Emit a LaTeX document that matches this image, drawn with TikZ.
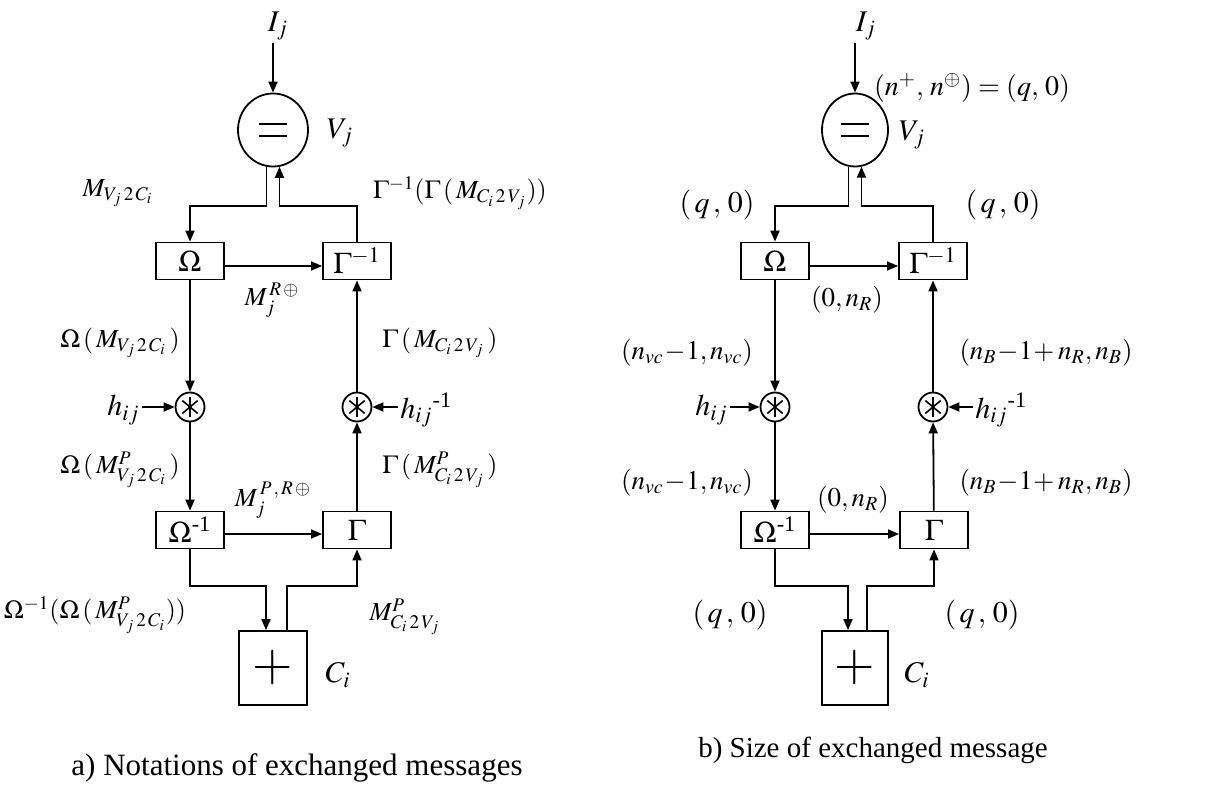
\documentclass[tikz,border=0pt]{standalone}
\usepackage{amsmath}
\usepackage{mathptmx}
\usepackage{fontspec}
\setmainfont{Liberation Serif}
\usetikzlibrary{shapes.geometric, arrows.meta, positioning, calc}

\begin{document}
\begin{tikzpicture}[
        x=0.5pt, y=-0.5pt,
        box/.style={rectangle, draw, line width=0.9pt, minimum width=34pt, minimum height=18.5pt, inner sep=0pt, font=\fontsize{15}{15}\selectfont},
        varnode/.style={ellipse, draw, line width=0.9pt, minimum width=35pt, minimum height=36.5pt, inner sep=0pt,
            path picture={\draw[line width=1pt] ([shift={(-7pt,3.2pt)}]path picture bounding box.center) -- ++(14pt,0pt)
                ([shift={(-7pt,-3.2pt)}]path picture bounding box.center) -- ++(14pt,0pt);}},
        chknode/.style={rectangle, draw, line width=0.9pt, minimum width=34pt, minimum height=37pt, inner sep=0pt, font=\fontsize{26}{26}\selectfont},
        mult/.style={circle, draw, line width=0.9pt, minimum size=14.5pt, inner sep=0pt,
            path picture={\foreach \a in {90,40,140}
                \draw[line width=0.8pt] ([shift={(\a:5pt)}]path picture bounding box.center) -- ([shift={(\a+180:5pt)}]path picture bounding box.center);}},
        lbl/.style={inner sep=1pt, font=\fontsize{13}{15}\selectfont},
        msg/.style={inner sep=1pt, font=\fontsize{15}{17}\selectfont},
        size/.style={inner sep=1pt, font=\fontsize{13.5}{16}\selectfont},
        captext/.style={inner sep=1pt, font=\fontsize{14.5}{17}\selectfont},
        arrow/.style={-{Triangle[length=5.5pt, width=4.5pt]}, line width=0.9pt}
    ]
    \useasboundingbox (0,0) rectangle (1211,787);

    % a) notations
    \node[varnode] (vla) at (273,130) {};
    \node[box] (ola) at (190,261) {$\Omega$};
    \node[box] (gia) at (357,261) {$\Gamma^{-1}$};
    \node[mult] (mla) at (190,407) {};
    \node[mult] (mra) at (357,407) {};
    \node[box] (oia) at (190,530) {$\Omega$\textsuperscript{-1}};
    \node[box] (ga) at (357,530) {$\Gamma$};
    \node[chknode] (pa) at (273,668) {$+$};

    \node[msg] (ija) at (278,26) {$I_j$};
    \node[msg] (vja) at (340,133) {$V_j$};
    \node[msg] (cia) at (338,675) {$C_i$};
    \node[msg, anchor=east] (hla) at (142,410) {$h_{ij}$};
    \node[msg, anchor=west] (hra) at (398,410) {$h_{ij}$\textsuperscript{-1}};

    \node[lbl] (mvca) at (118,193) {$M_{V_j\,2\,C_i}$};
    \node[lbl] (gga) at (460,193) {$\Gamma^{-1}(\Gamma\,(\,M_{C_i\,2\,V_j}))$};
    \node[lbl] (mra1) at (272,300) {$M_j^{\,R\,\oplus}$};
    \node[lbl] (omva) at (120,343) {$\Omega\,(\,M_{V_j\,2\,C_i}\,)$};
    \node[lbl] (gmca) at (440,343) {$\Gamma\,(\,M_{C_i\,2\,V_j}\,)$};
    \node[lbl] (ompa) at (120,470) {$\Omega\,(\,M^P_{V_j\,2\,C_i}\,)$};
    \node[lbl] (gmpa) at (440,470) {$\Gamma\,(\,M^P_{C_i\,2\,V_j}\,)$};
    \node[lbl] (mpra) at (273,500) {$M_j^{\,P\,,\,R\,\oplus}$};
    \node[lbl] (oopa) at (95,615) {$\Omega^{-1}(\Omega\,(\,M^P_{V_j\,2\,C_i}))$};
    \node[lbl] (mpca) at (405,617) {$M^P_{C_i\,2\,V_j}$};
    \node[captext, font=\fontsize{15.5}{18}\selectfont] (capa) at (297,768) {a) Notations of exchanged messages};

    \coordinate (ta) at (0,206);
    \coordinate (ba) at (0,586);
    \coordinate (pain) at ($(pa.north)+(-7,0)$);
    \coordinate (paout) at ($(pa.north)+(14,0)$);

    \draw[arrow] (vla.north |- ija.south) -- (vla.north);
    \draw[arrow] (vla.-100) -- (vla.-100 |- ta) -| (ola.north);
    \draw[arrow] (gia.north) |- (vla.-80 |- ta) -- (vla.-80);
    \draw[arrow] ($(ola.east)+(0,5)$) -- ($(gia.west)+(0,5)$);
    \draw[arrow] (ola) -- (mla);
    \draw[arrow] (mla) -- (oia);
    \draw[arrow] (ga) -- (mra);
    \draw[arrow] (mra) -- (gia);
    \draw[arrow] (hla.east |- mla) -- (mla);
    \draw[arrow] (hra.west |- mra) -- (mra);
    \draw[arrow] ($(oia.east)+(0,4)$) -- ($(ga.west)+(0,4)$);
    \draw[arrow] (oia.south) |- (pain |- ba) -- (pain);
    \draw[arrow] (paout) -- (paout |- ba) -| (ga.south);

    % b) sizes
    \node[varnode, minimum width=33pt] (vlb) at (855,130) {};
    \node[box] (olb) at (775,261) {$\Omega$};
    \node[box] (gib) at (933,261) {$\Gamma^{-1}$};
    \node[mult] (mlb) at (775,407) {};
    \node[mult] (mrb) at (933,407) {};
    \node[box] (oib) at (775,530) {$\Omega$\textsuperscript{-1}};
    \node[box] (gb) at (934,530) {$\Gamma$};
    \node[chknode, minimum width=33pt] (pb) at (855,668) {$+$};

    \node[msg] (ijb) at (866,26) {$I_j$};
    \node[msg] (vjb) at (912,135) {$V_j$};
    \node[msg] (cib) at (917,675) {$C_i$};
    \node[msg, anchor=east] (hlb) at (730,410) {$h_{ij}$};
    \node[msg, anchor=west] (hrb) at (973,410) {$h_{ij}$\textsuperscript{-1}};

    \node[msg, font=\fontsize{14}{16}\selectfont] (nnb) at (972,88) {$(n^+,\,n^\oplus) = (q,\,0)$};
    \node[msg] (qlb) at (717,205) {$(\,q\,,\,0)$};
    \node[msg] (qrb) at (1003,205) {$(\,q\,,\,0)$};
    \node[size] (nrb1) at (847,300) {$(0, n_R)$};
    \node[size] (nvb1) at (687,353) {$(n_{vc}\!-\!1, n_{vc})$};
    \node[size] (nbb1) at (1046,353) {$(n_B\!-\!1\!+ n_R, n_B)$};
    \node[size] (nvb2) at (687,483) {$(n_{vc}\!-\!1, n_{vc})$};
    \node[size] (nbb2) at (1046,483) {$(n_B\!-\!1\!+ n_R, n_B)$};
    \node[size] (nrb2) at (853,500) {$(0, n_R)$};
    \node[msg] (qlb2) at (730,615) {$(\,q\,,\,0)$};
    \node[msg] (qrb2) at (982,615) {$(\,q\,,\,0)$};
    \node[captext] (capb) at (873,750) {b) Size of exchanged message};

    \coordinate (tb) at (0,206);
    \coordinate (bb) at (0,586);
    \coordinate (pbin) at ($(pb.north)+(-7,0)$);
    \coordinate (pbout) at ($(pb.north)+(12,0)$);

    \draw[arrow] (vlb.north |- ijb.south) -- (vlb.north);
    \draw[arrow] (vlb.-100) -- (vlb.-100 |- tb) -| (olb.north);
    \draw[arrow] (gib.north) |- (vlb.-80 |- tb) -- (vlb.-80);
    \draw[arrow] ($(olb.east)+(0,5)$) -- ($(gib.west)+(0,5)$);
    \draw[arrow] (olb) -- (mlb);
    \draw[arrow] (mlb) -- (oib);
    \draw[arrow] (gb) -- (mrb);
    \draw[arrow] (mrb) -- (gib);
    \draw[arrow] (hlb.east |- mlb) -- (mlb);
    \draw[arrow] (hrb.west |- mrb) -- (mrb);
    \draw[arrow] ($(oib.east)+(0,4)$) -- ($(gb.west)+(0,4)$);
    \draw[arrow] (oib.south) |- (pbin |- bb) -- (pbin);
    \draw[arrow] (pbout) -- (pbout |- bb) -| (gb.south);
\end{tikzpicture}
\end{document}
